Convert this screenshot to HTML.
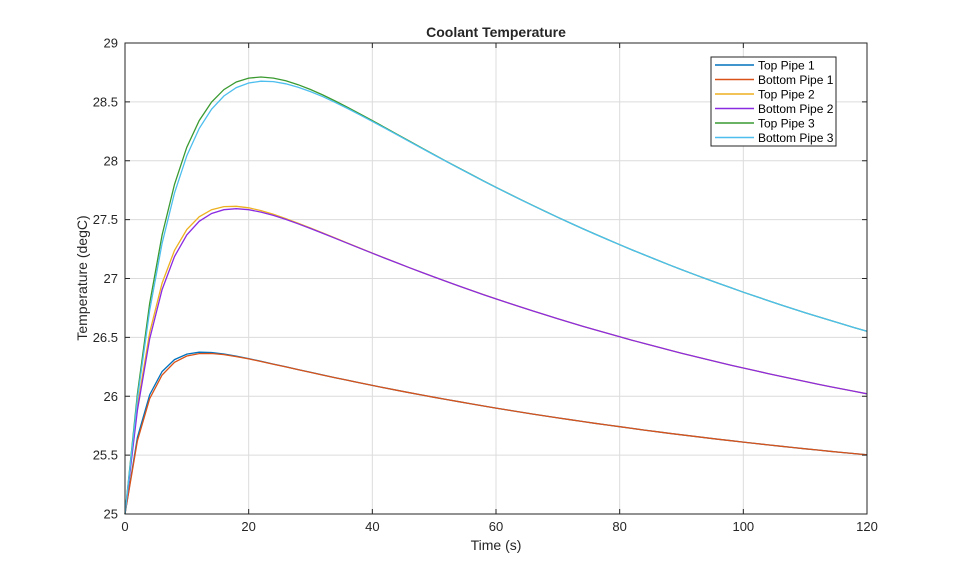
<!DOCTYPE html>
<html><head><meta charset="utf-8"><style>
body{margin:0;background:#fff;}
svg text{font-family:"Liberation Sans",Arial,sans-serif;fill:#262626;}
</style></head><body>
<svg id="s" width="959" height="577" xmlns="http://www.w3.org/2000/svg">
<rect width="959" height="577" fill="#fff"/>
<g id="grid"></g>
<g id="curves" fill="none" stroke-width="1.3"></g>
<rect x="125" y="43" width="742" height="471" fill="none" stroke="#262626" stroke-width="1"/>
<g id="ticks"></g>
<text x="496" y="37" text-anchor="middle" font-size="14" font-weight="bold">Coolant Temperature</text>
<text x="496" y="550" text-anchor="middle" font-size="14">Time (s)</text>
<text transform="translate(87,278) rotate(-90)" text-anchor="middle" font-size="14">Temperature (degC)</text>
<g id="leg"></g>
</svg>
<script>
const X=t=>125+t*742/120, Y=v=>514-(v-25)*471/4;
let g='',tk='';
for(let i=0;i<=6;i++){const x=X(i*20);if(i>0&&i<6)g+=`<line x1="${x}" y1="43" x2="${x}" y2="514" stroke="#dcdcdc"/>`;
tk+=`<line x1="${x}" y1="514" x2="${x}" y2="509" stroke="#262626"/><line x1="${x}" y1="43" x2="${x}" y2="48" stroke="#262626"/><text x="${x}" y="531" text-anchor="middle" font-size="13">${i*20}</text>`;}
for(let i=0;i<=8;i++){const v=25+i*0.5,y=Y(v);if(i>0&&i<8)g+=`<line x1="125" y1="${y}" x2="867" y2="${y}" stroke="#dcdcdc"/>`;
tk+=`<line x1="125" y1="${y}" x2="130" y2="${y}" stroke="#262626"/><line x1="867" y1="${y}" x2="862" y2="${y}" stroke="#262626"/><text x="118" y="${y+4.5}" text-anchor="end" font-size="13">${v}</text>`;}
document.getElementById('grid').innerHTML=g;document.getElementById('ticks').innerHTML=tk;
const a=0.0097;
const series=[
 ['Top Pipe 1','#0072BD',1.61,0.275],
 ['Bottom Pipe 1','#D95319',1.61,0.26],
 ['Top Pipe 2','#EDB120',3.27,0.178],
 ['Bottom Pipe 2','#8A2BE2',3.27,0.17],
 ['Top Pipe 3','#3A9A30',4.97,0.127],
 ['Bottom Pipe 3','#4DBEEE',4.97,0.122]];
let c='',l='';
series.forEach((s,k)=>{let p=[];for(let t=0;t<=120;t+=2){const v=25+s[2]*(Math.exp(-a*t)-Math.exp(-s[3]*t));p.push(X(t).toFixed(1)+','+Y(v).toFixed(1));}
c+=`<polyline points="${p.join(' ')}" stroke="${s[1]}"/>`;
const y=65+k*14.5;l+=`<line x1="715" y1="${y}" x2="754" y2="${y}" stroke="${s[1]}" stroke-width="1.5"/><text x="758" y="${y+4.5}" font-size="12" style="fill:#000">${s[0]}</text>`;});
document.getElementById('curves').innerHTML=c;
document.getElementById('leg').innerHTML=`<rect x="711" y="57" width="125" height="89" fill="#fff" stroke="#262626"/>`+l;
</script>
</body></html>
